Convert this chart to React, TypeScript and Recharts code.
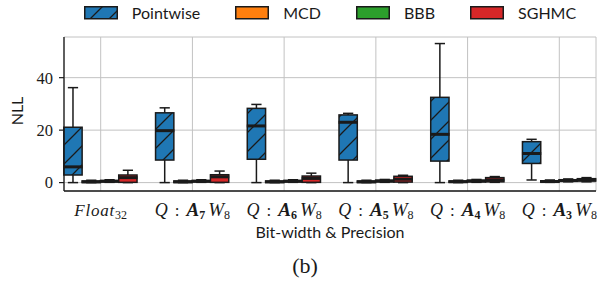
import React from "react"
import { ComposedChart, Bar, XAxis, YAxis, CartesianGrid, Label } from "recharts"

// x positions of the six precision settings
const categories = [0, 1, 2, 3, 4, 5]
// activation bit-width in each "Q : A_b W_8" label (0 = Float32)
const actBits = [0, 7, 6, 5, 4, 3]
const yTicks = [0, 20, 40]

// box stats per category: [min, q1, median, q3, max]
const pointwise = [
  [0, 2.9, 6.0, 21.1, 36.2],
  [0, 8.6, 19.8, 26.6, 28.5],
  [0, 8.9, 21.6, 28.3, 29.8],
  [0, 8.6, 23.0, 25.8, 26.4],
  [0, 8.2, 18.4, 32.5, 53.0],
  [1.0, 7.3, 11.1, 15.6, 16.5],
]
const mcd = [
  [0, 0.05, 0.3, 0.6, 0.9],
  [0, 0.05, 0.3, 0.6, 0.9],
  [0, 0.05, 0.3, 0.6, 0.9],
  [0, 0.05, 0.3, 0.6, 0.9],
  [0, 0.1, 0.35, 0.6, 0.9],
  [0.1, 0.2, 0.4, 0.7, 1.0],
]
const bbb = [
  [0.1, 0.3, 0.5, 0.8, 1.1],
  [0.1, 0.3, 0.5, 0.8, 1.1],
  [0.1, 0.3, 0.5, 0.8, 1.1],
  [0.1, 0.3, 0.6, 0.9, 1.2],
  [0.1, 0.3, 0.6, 0.9, 1.2],
  [0.3, 0.5, 0.8, 1.1, 1.4],
]
const sghmc = [
  [0, 0.1, 1.9, 2.9, 4.7],
  [0, 0.1, 2.2, 3.0, 4.4],
  [0, 0.1, 1.6, 2.5, 3.6],
  [0, 0.2, 1.3, 2.4, 2.8],
  [0.1, 0.3, 1.0, 1.9, 2.3],
  [0.3, 0.6, 1.0, 1.5, 1.9],
]

const series = [
  { key: "pointwise", name: "Pointwise", color: "#1f77b4", hatch: true, stats: pointwise },
  { key: "mcd", name: "MCD", color: "#ff7f0e", hatch: false, stats: mcd },
  { key: "bbb", name: "BBB", color: "#2ca02c", hatch: false, stats: bbb },
  { key: "sghmc", name: "SGHMC", color: "#d62728", hatch: false, stats: sghmc },
]

const data = categories.map((c, i) => {
  const row: any = { x: c }
  series.forEach(s => { row[s.key] = s.stats[i] })
  return row
})

const SERIF = "'Liberation Serif', 'DejaVu Serif', serif"
const SANS = "Lato, 'DejaVu Sans', sans-serif"
const INK = "#1a1a1a"

function BoxShape(props: any) {
  const { x, y, width, height, payload, skey, color, hatch } = props
  const [mn, q1, med, q3, mx] = payload[skey]
  const top = Math.min(y, y + height)
  const bottom = Math.max(y, y + height)
  const span = mx - mn
  const py = (v: number) => (span > 0 ? bottom - ((v - mn) / span) * (bottom - top) : bottom)
  const cx = x + width / 2
  const cap = width * 0.28
  return (
    <g>
      <line x1={cx} x2={cx} y1={py(q3)} y2={py(mx)} stroke={INK} strokeWidth={1.5} />
      <line x1={cx} x2={cx} y1={py(q1)} y2={py(mn)} stroke={INK} strokeWidth={1.5} />
      <line x1={cx - cap} x2={cx + cap} y1={py(mx)} y2={py(mx)} stroke={INK} strokeWidth={1.5} />
      <line x1={cx - cap} x2={cx + cap} y1={py(mn)} y2={py(mn)} stroke={INK} strokeWidth={1.5} />
      <rect x={x} y={py(q3)} width={width} height={py(q1) - py(q3)} fill={color} stroke={INK} strokeWidth={1.5} />
      {hatch && (
        <rect x={x} y={py(q3)} width={width} height={py(q1) - py(q3)} fill="url(#hatchPw)" stroke="none" />
      )}
      <line x1={x - 0.5} x2={x + width + 0.5} y1={py(med)} y2={py(med)} stroke={INK} strokeWidth={3} />
    </g>
  )
}

function XTick(props: any) {
  const { x, y, payload } = props
  const b = actBits[payload.value]
  const base = y + 25
  if (!b) {
    return (
      <text x={x} y={base} textAnchor="middle" fontFamily={SERIF} fontSize={17} fill={INK}>
        <tspan fontStyle="italic" letterSpacing={0.8}>Float</tspan>
        <tspan dy={3} fontSize={12}>32</tspan>
      </text>
    )
  }
  return (
    <text x={x} y={base} textAnchor="middle" fontFamily={SERIF} fontSize={18} fill={INK}>
      <tspan fontStyle="italic">Q</tspan>
      <tspan dx={7} fontSize={17}>:</tspan>
      <tspan dx={7} fontStyle="italic" fontWeight="bold" fontSize={19}>A</tspan>
      <tspan dy={3} fontSize={12} fontWeight="bold">{b}</tspan>
      <tspan dy={-3} dx={3} fontStyle="italic" fontSize={19}>W</tspan>
      <tspan dy={3} fontSize={12}>8</tspan>
    </text>
  )
}

function LegendRow() {
  return (
    <div
      style={{
        position: "absolute", top: 6, left: 64, width: 532, display: "flex",
        justifyContent: "center", alignItems: "center", fontFamily: SANS, fontSize: 16, color: INK,
      }}
    >
      {series.map((s, i) => (
        <div key={s.key} style={{ display: "flex", alignItems: "center", marginLeft: i ? 35 : 0 }}>
          <svg width={34} height={14} style={{ display: "block" }}>
            <rect x={0.75} y={0.75} width={32.5} height={12} fill={s.color} stroke={INK} strokeWidth={1.5} />
            {s.hatch && <rect x={0.75} y={0.75} width={32.5} height={12} fill="url(#hatchPw)" />}
          </svg>
          <span style={{ marginLeft: 14, lineHeight: "14px" }}>{s.name}</span>
        </div>
      ))}
    </div>
  )
}

export default function App() {
  return (
    <div style={{ position: "absolute", left: 0, top: 0, width: 599, height: 286, background: "#fff" }}>
      <svg width={0} height={0} style={{ position: "absolute" }}>
        <defs>
          <pattern id="hatchPw" patternUnits="userSpaceOnUse" width={19} height={19}>
            <path d="M0,19 L19,0 M-5,5 L5,-5 M14,24 L24,14" stroke={INK} strokeWidth={1.3} />
          </pattern>
        </defs>
      </svg>
      <ComposedChart
        width={599}
        height={286}
        data={data}
        margin={{ top: 37, right: 3, left: 0, bottom: 65 }}
        barGap={0}
      >
        <CartesianGrid stroke="#c2c2c2" strokeWidth={1} />
        <XAxis
          type="number"
          dataKey="x"
          domain={[-0.4, 5.4]}
          ticks={categories}
          height={30}
          tickLine={false}
          tickSize={0}
          tickMargin={0}
          axisLine={{ stroke: INK, strokeWidth: 1.3 }}
          tick={<XTick />}
        >
          <Label
            content={(p: any) => {
              const vb = p.viewBox
              return (
                <text x={vb.x + vb.width / 2} y={237.5} textAnchor="middle" fontFamily={SANS} fontSize={16} fill={INK}>
                  Bit-width &amp; Precision
                </text>
              )
            }}
          />
        </XAxis>
        <YAxis
          type="number"
          domain={[-3.2, 55.5]}
          ticks={yTicks}
          width={64}
          tickSize={5}
          tickMargin={6}
          axisLine={{ stroke: INK, strokeWidth: 1.3 }}
          tickLine={{ stroke: INK, strokeWidth: 1.2 }}
          tick={{ fontFamily: SERIF, fontSize: 16.5, fill: INK }}
        >
          <Label
            content={(p: any) => {
              const vb = p.viewBox
              const cy = vb.y + vb.height / 2 - 3
              return (
                <text x={23} y={cy} textAnchor="middle" transform={`rotate(-90 23 ${cy})`} fontFamily={SANS} fontSize={16} fill={INK}>
                  NLL
                </text>
              )
            }}
          />
        </YAxis>
        {series.map(s => (
          <Bar
            key={s.key}
            dataKey={(d: any) => [d[s.key][0], d[s.key][4]]}
            name={s.name}
            fill={s.color}
            barSize={18.3}
            isAnimationActive={false}
            shape={(p: any) => <BoxShape {...p} skey={s.key} color={s.color} hatch={s.hatch} />}
          />
        ))}
      </ComposedChart>
      <LegendRow />
      <svg width={599} height={286} style={{ position: "absolute", left: 0, top: 0, pointerEvents: "none" }}>
        <text x={305} y={273} textAnchor="middle" fontFamily={SERIF} fontSize={22} fill={INK}>(b)</text>
      </svg>
    </div>
  )
}
